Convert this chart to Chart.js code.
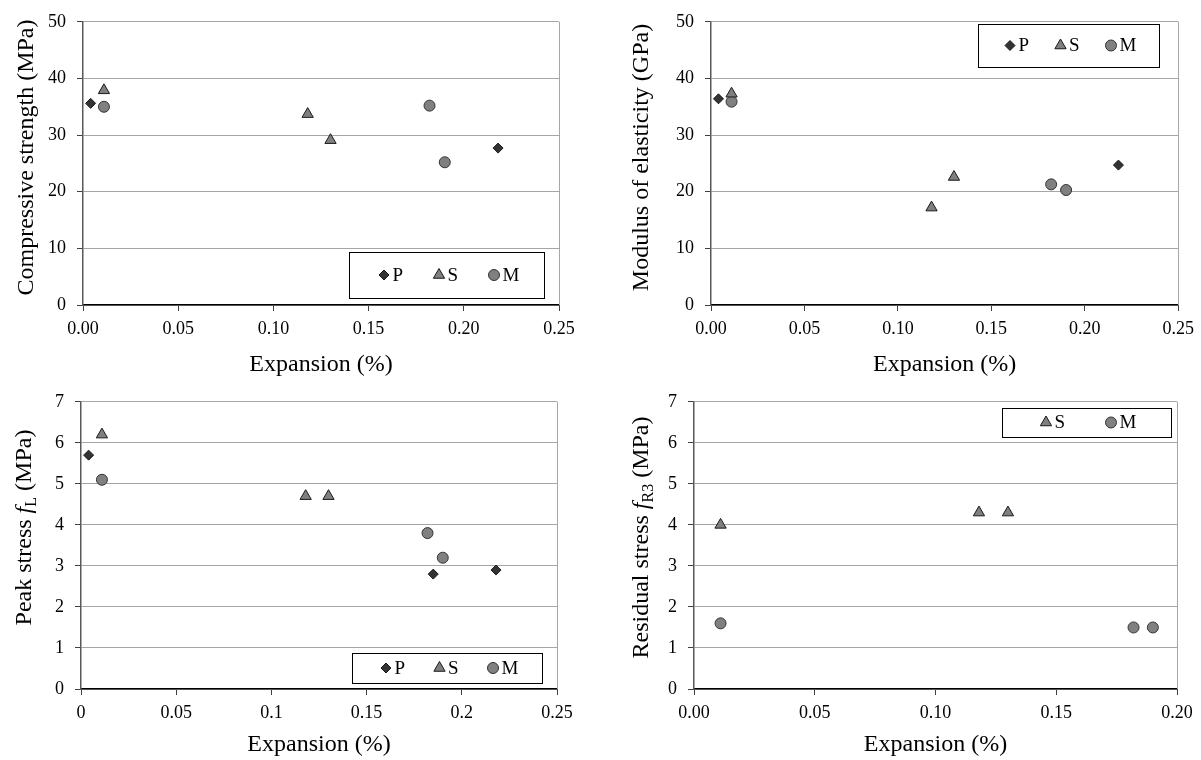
<!DOCTYPE html>
<html>
<head>
<meta charset="utf-8">
<script src="https://cdn.jsdelivr.net/npm/chart.js@4.4.1/dist/chart.umd.min.js"></script>
<style>
html,body{margin:0;padding:0;background:#fff;}
#wrap{position:relative;width:1201px;height:760px;overflow:hidden;}
canvas{position:absolute;}
</style>
</head>
<body>
<div id="wrap">
<canvas id="c1" width="600" height="380" style="left:0px;top:0px;width:600px;height:380px"></canvas>
<canvas id="c2" width="601" height="380" style="left:600px;top:0px;width:601px;height:380px"></canvas>
<canvas id="c3" width="600" height="380" style="left:0px;top:380px;width:600px;height:380px"></canvas>
<canvas id="c4" width="601" height="380" style="left:600px;top:380px;width:601px;height:380px"></canvas>
</div>
<script>
// ---------------- DATA ----------------
// Compressive strength (MPa) vs expansion (%)
const compP_x = [0.004, 0.218];
const compP_y = [35.6, 27.7];
const compS_x = [0.011, 0.118, 0.130];
const compS_y = [37.9, 33.7, 29.1];
const compM_x = [0.011, 0.182, 0.190];
const compM_y = [35.0, 35.2, 25.2];

// Modulus of elasticity (GPa) vs expansion (%)
const modP_x = [0.004, 0.218];
const modP_y = [36.4, 24.7];
const modS_x = [0.011, 0.118, 0.130];
const modS_y = [37.3, 17.2, 22.6];
const modM_x = [0.011, 0.182, 0.190];
const modM_y = [35.9, 21.3, 20.3];

// Peak stress fL (MPa) vs expansion (%)
const peakP_x = [0.004, 0.185, 0.218];
const peakP_y = [5.7, 2.8, 2.9];
const peakS_x = [0.011, 0.118, 0.130];
const peakS_y = [6.2, 4.7, 4.7];
const peakM_x = [0.011, 0.182, 0.190];
const peakM_y = [5.1, 3.8, 3.2];

// Residual stress fR3 (MPa) vs expansion (%)
const resS_x = [0.011, 0.118, 0.130];
const resS_y = [4.0, 4.3, 4.3];
const resM_x = [0.011, 0.182, 0.190];
const resM_y = [1.6, 1.5, 1.5];

// Tick labels
const xTicks2dp = ['0.00', '0.05', '0.10', '0.15', '0.20', '0.25'];
const xTicksPlain = ['0', '0.05', '0.1', '0.15', '0.2', '0.25'];
const yTicks50 = ['0', '10', '20', '30', '40', '50'];
const yTicks7 = ['0', '1', '2', '3', '4', '5', '6', '7'];

// ---------------- STYLE ----------------
const FONT = "'Liberation Serif', 'Times New Roman', serif";
const markerStyles = {
  P: { pointStyle: 'rectRot', radius: 5, bg: '#333333', border: '#1a1a1a' },
  S: { pointStyle: 'triangle', radius: 6.5, bg: '#7f7f7f', border: '#1a1a1a' },
  M: { pointStyle: 'circle', radius: 5.5, bg: '#808080', border: '#333333' }
};

function drawMarker(ctx, st, x, y) {
  const r = st.radius;
  ctx.save();
  ctx.beginPath();
  if (st.pointStyle === 'rectRot') {
    ctx.moveTo(x - r, y); ctx.lineTo(x, y - r); ctx.lineTo(x + r, y); ctx.lineTo(x, y + r);
    ctx.closePath();
  } else if (st.pointStyle === 'triangle') {
    let rad = 0;
    ctx.moveTo(x + Math.sin(rad) * r, y - Math.cos(rad) * r);
    rad += 2 * Math.PI / 3;
    ctx.lineTo(x + Math.sin(rad) * r, y - Math.cos(rad) * r);
    rad += 2 * Math.PI / 3;
    ctx.lineTo(x + Math.sin(rad) * r, y - Math.cos(rad) * r);
    ctx.closePath();
  } else {
    ctx.arc(x, y, r, 0, Math.PI * 2);
  }
  ctx.fillStyle = st.bg;
  ctx.strokeStyle = st.border;
  ctx.lineWidth = 1;
  ctx.fill();
  ctx.stroke();
  ctx.restore();
}

// right border of the plot area
const framePlugin = {
  id: 'frame',
  beforeDatasetsDraw(chart) {
    const a = chart.chartArea, ctx = chart.ctx;
    ctx.save();
    ctx.strokeStyle = '#a6a6a6';
    ctx.lineWidth = 1;
    ctx.beginPath();
    ctx.moveTo(Math.round(a.right) + 0.5, a.top);
    ctx.lineTo(Math.round(a.right) + 0.5, a.bottom);
    ctx.stroke();
    ctx.restore();
  }
};

// boxed legend
const boxLegendPlugin = {
  id: 'boxLegend',
  afterDraw(chart, args, opts) {
    const ctx = chart.ctx;
    ctx.save();
    ctx.fillStyle = '#fff';
    ctx.fillRect(opts.x, opts.y, opts.w, opts.h);
    ctx.strokeStyle = '#000';
    ctx.lineWidth = 1;
    ctx.strokeRect(opts.x + 0.5, opts.y + 0.5, opts.w, opts.h);
    const cy = opts.y + opts.h / 2;
    ctx.font = '19px ' + FONT;
    ctx.textBaseline = 'middle';
    ctx.textAlign = 'left';
    ctx.fillStyle = '#000';
    let x = opts.firstX;
    chart.data.datasets.forEach(ds => {
      drawMarker(ctx, markerStyles[ds.label], x, cy);
      ctx.fillText(ds.label, x + 8.5, cy + 1);
      x += opts.spacing;
    });
    ctx.restore();
  }
};

// rotated y-axis title with italic / subscript parts
const yTitlePlugin = {
  id: 'yTitle',
  afterDraw(chart, args, opts) {
    const ctx = chart.ctx;
    const size = 24;
    const segs = opts.segments;
    ctx.save();
    const measured = [];
    let total = 0;
    for (let i = 0; i < segs.length; i++) {
      const s = segs[i];
      const sz = s.sub ? 16 : size;
      const f = (s.italic ? 'italic ' : '') + sz + 'px ' + FONT;
      ctx.font = f;
      const w = ctx.measureText(s.text).width;
      measured.push({ text: s.text, f: f, w: w, sub: !!s.sub });
      total += w;
    }
    ctx.translate(opts.x, opts.y);
    ctx.rotate(-Math.PI / 2);
    ctx.textBaseline = 'alphabetic';
    ctx.textAlign = 'left';
    ctx.fillStyle = '#000';
    let cx = -total / 2;
    const base = size * 0.33;
    measured.forEach(m => {
      ctx.font = m.f;
      ctx.fillText(m.text, cx, m.sub ? base + 5 : base);
      cx += m.w;
    });
    ctx.restore();
  }
};

function makeChart(id, cfg) {
  const datasets = cfg.series.map(s => ({
    label: s.name,
    data: s.x.map((xv, i) => ({ x: xv, y: s.y[i] })),
    pointStyle: markerStyles[s.name].pointStyle,
    pointRadius: markerStyles[s.name].radius,
    pointHoverRadius: markerStyles[s.name].radius,
    pointBackgroundColor: markerStyles[s.name].bg,
    pointBorderColor: markerStyles[s.name].border,
    pointBorderWidth: 1,
    showLine: false
  }));
  return new Chart(document.getElementById(id), {
    type: 'scatter',
    data: { datasets: datasets },
    options: {
      responsive: false,
      animation: false,
      events: [],
      layout: { padding: { top: cfg.area.top, right: cfg.area.right, left: 0, bottom: 0 } },
      plugins: {
        legend: { display: false },
        tooltip: { enabled: false },
        boxLegend: cfg.legend,
        yTitle: cfg.yTitle
      },
      scales: {
        x: {
          type: 'linear',
          min: 0,
          max: cfg.xMax,
          ticks: {
            stepSize: 0.05,
            autoSkip: false,
            maxRotation: 0,
            padding: 7,
            color: '#000',
            font: { family: FONT, size: 18 },
            callback: (v) => cfg.xLabels[Math.round(v / 0.05)]
          },
          grid: { display: true, drawOnChartArea: false, drawTicks: true, tickLength: 6, tickColor: '#404040', tickWidth: 1 },
          border: { display: true, color: '#000', width: 1.5 },
          title: { display: true, text: 'Expansion (%)', color: '#000', font: { family: FONT, size: 24 }, padding: { top: 0, bottom: 1 } },
          afterFit: (s) => { s.height = cfg.area.xAxisH; }
        },
        y: {
          type: 'linear',
          min: 0,
          max: cfg.yMax,
          ticks: {
            stepSize: cfg.yStep,
            padding: 11,
            color: '#000',
            font: { family: FONT, size: 18 },
            callback: (v) => cfg.yLabels[Math.round(v / cfg.yStep)]
          },
          grid: { color: '#a6a6a6', lineWidth: 1, drawTicks: true, tickLength: 6, tickColor: '#404040', tickWidth: 1 },
          border: { display: true, color: '#595959', width: 1.5 },
          afterFit: (s) => { s.width = cfg.area.left; }
        }
      }
    },
    plugins: [framePlugin, boxLegendPlugin, yTitlePlugin]
  });
}

makeChart('c1', {
  series: [
    { name: 'P', x: compP_x, y: compP_y },
    { name: 'S', x: compS_x, y: compS_y },
    { name: 'M', x: compM_x, y: compM_y }
  ],
  xMax: 0.25, yMax: 50, yStep: 10, xLabels: xTicks2dp, yLabels: yTicks50,
  area: { left: 83, top: 17, right: 41, xAxisH: 75 },
  legend: { x: 349, y: 252, w: 195, h: 46, firstX: 384, spacing: 55 },
  yTitle: { x: 25.5, y: 157.5, segments: [{ text: 'Compressive strength (MPa)' }] }
});

makeChart('c2', {
  series: [
    { name: 'P', x: modP_x, y: modP_y },
    { name: 'S', x: modS_x, y: modS_y },
    { name: 'M', x: modM_x, y: modM_y }
  ],
  xMax: 0.25, yMax: 50, yStep: 10, xLabels: xTicks2dp, yLabels: yTicks50,
  area: { left: 111, top: 17, right: 22, xAxisH: 75 },
  legend: { x: 378, y: 24, w: 181, h: 43, firstX: 410, spacing: 50.5 },
  yTitle: { x: 40, y: 157.5, segments: [{ text: 'Modulus of elasticity (GPa)' }] }
});

makeChart('c3', {
  series: [
    { name: 'P', x: peakP_x, y: peakP_y },
    { name: 'S', x: peakS_x, y: peakS_y },
    { name: 'M', x: peakM_x, y: peakM_y }
  ],
  xMax: 0.25, yMax: 7, yStep: 1, xLabels: xTicksPlain, yLabels: yTicks7,
  area: { left: 81, top: 21, right: 43, xAxisH: 71 },
  legend: { x: 352, y: 273, w: 190, h: 30, firstX: 386, spacing: 53.5 },
  yTitle: { x: 23, y: 147.5, segments: [{ text: 'Peak stress ' }, { text: 'f', italic: true }, { text: 'L', sub: true }, { text: ' (MPa)' }] }
});

makeChart('c4', {
  series: [
    { name: 'S', x: resS_x, y: resS_y },
    { name: 'M', x: resM_x, y: resM_y }
  ],
  xMax: 0.20, yMax: 7, yStep: 1, xLabels: xTicks2dp, yLabels: yTicks7,
  area: { left: 94, top: 21, right: 24, xAxisH: 71 },
  legend: { x: 402, y: 28, w: 169, h: 29, firstX: 446, spacing: 65 },
  yTitle: { x: 40, y: 157.5, segments: [{ text: 'Residual stress ' }, { text: 'f', italic: true }, { text: 'R3', sub: true }, { text: ' (MPa)' }] }
});
</script>
</body>
</html>
